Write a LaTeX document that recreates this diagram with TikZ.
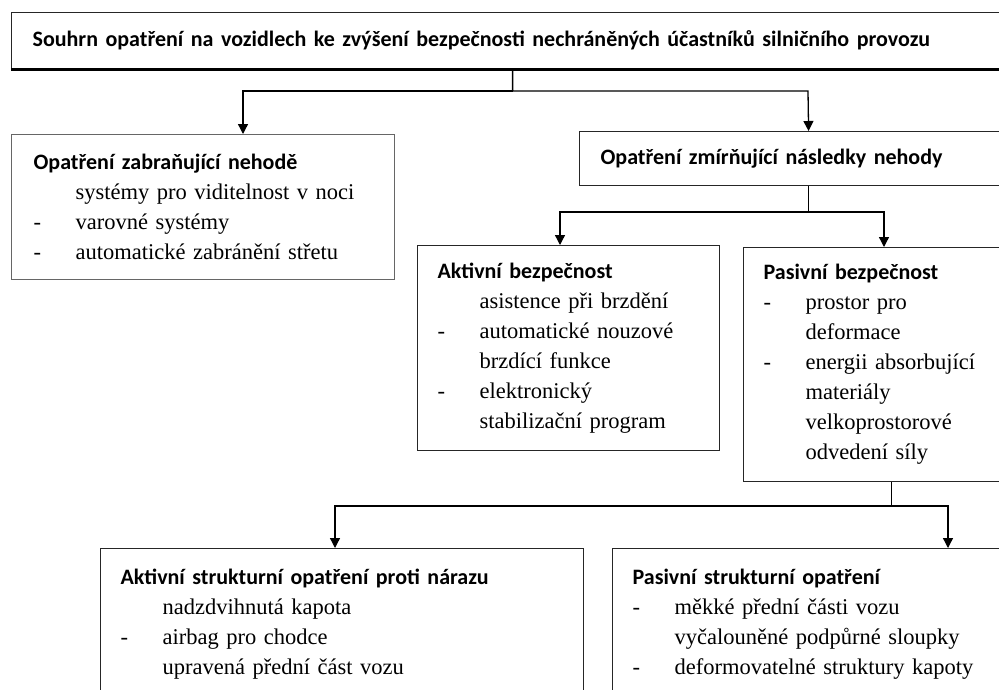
\documentclass[tikz,border=0pt]{standalone}
\usepackage{fontspec}
\setmainfont{Liberation Serif}
\newfontfamily\hdfont{Carlito}
\usetikzlibrary{arrows.meta}

\newcommand{\hd}[1]{{\hdfont\bfseries\fontsize{22}{30}\selectfont #1}}
\newcommand{\dl}[1]{\makebox[42pt][l]{-}#1}
\newcommand{\ind}[1]{\hspace*{42pt}#1}

\begin{document}
\begin{tikzpicture}[x=1pt,y=-1pt,
  box/.style={draw=black!85,line width=1.2pt,anchor=north west,align=left,
    inner ysep=0pt,font=\fontsize{22.5}{30}\selectfont},
  conn/.style={draw=black,line width=1.3pt},
  arr/.style={conn,-{Triangle[length=10pt,width=10pt]}}]
\useasboundingbox (0,0) rectangle (999,689);
\clip (0,0) rectangle (999,689);

\node[box,text width=960pt,inner xsep=21pt,minimum height=56pt] (top) at (11,12)
  {\hd{Souhrn opatření na vozidlech ke zvýšení bezpečnosti nechráněných účastníků silničního provozu}};
\draw[line width=3pt] (top.south west) -- (top.south east);

\node[box,draw=black!60,text width=339pt,inner xsep=22pt,minimum height=145pt] (left) at (11,134)
  {\hd{Opatření zabraňující nehodě}\\
   \ind{systémy pro viditelnost v noci}\\
   \dl{varovné systémy}\\
   \dl{automatické zabránění střetu}};

\node[box,text width=416pt,inner xsep=21pt,minimum height=54pt] (zmir) at (579,131)
  {\hd{Opatření zmírňující následky nehody}};

\node[box,text width=262pt,inner xsep=20pt,minimum height=205pt] (akt) at (417,245)
  {\hd{Aktivní bezpečnost}\\
   \ind{asistence při brzdění}\\
   \dl{automatické nouzové}\\
   \ind{brzdící funkce}\\
   \dl{elektronický}\\
   \ind{stabilizační program}};

\node[box,text width=256pt,inner xsep=20pt,minimum height=234pt] (pas) at (743,247)
  {\hd{Pasivní bezpečnost}\\
   \dl{prostor pro}\\
   \ind{deformace}\\
   \dl{energii absorbující}\\
   \ind{materiály}\\
   \ind{velkoprostorové}\\
   \ind{odvedení síly}};

\node[box,text width=443pt,inner xsep=20pt,minimum height=151pt] (lowl) at (100,548)
  {\hd{Aktivní strukturní opatření proti nárazu}\\
   \ind{nadzdvihnutá kapota}\\
   \dl{airbag pro chodce}\\
   \ind{upravená přední část vozu}};

\node[box,text width=398pt,inner xsep=20pt,minimum height=151pt] (lowr) at (612,548)
  {\hd{Pasivní strukturní opatření}\\
   \dl{měkké přední části vozu}\\
   \ind{vyčalouněné podpůrné sloupky}\\
   \dl{deformovatelné struktury kapoty}};

% branch points
\coordinate (j1l) at (243,91);
\coordinate (j1r) at (808,91);
\coordinate (j2l) at (560,212);
\coordinate (j2r) at (884,212);
\coordinate (j3l) at (335,506);
\coordinate (j3r) at (948,506);

\draw[arr] (top.south) |- (j1l) -- (j1l |- left.north);
\draw[arr] (top.south) |- (j1r) -- (zmir.north);
\draw[arr] (zmir.south) |- (j2l) -- (j2l |- akt.north);
\draw[arr] (zmir.south) |- (j2r) -- (j2r |- pas.north);
\draw[arr] (pas.south) |- (j3l) -- (j3l |- lowl.north);
\draw[arr] (pas.south) |- (j3r) -- (j3r |- lowr.north);

\end{tikzpicture}
\end{document}
